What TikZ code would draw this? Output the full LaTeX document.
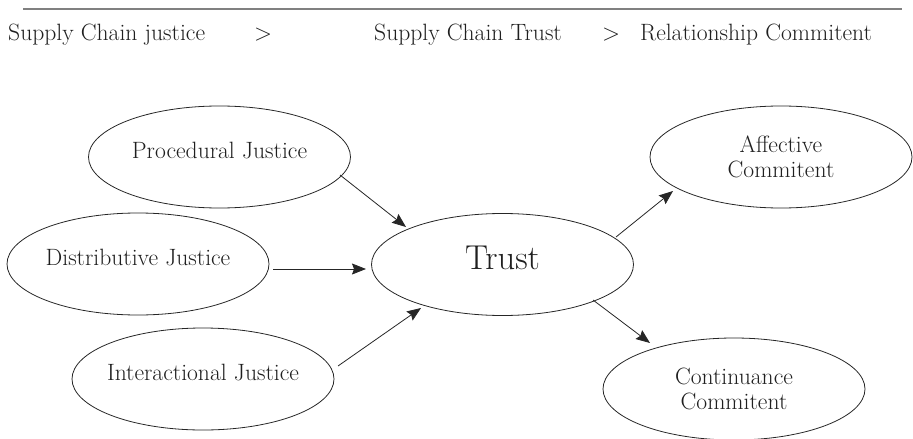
\documentclass[tikz,border=0pt]{standalone}
\usetikzlibrary{shapes.geometric,arrows.meta,calc}
\begin{document}
\begin{tikzpicture}[x=1pt,y=-1pt,
  txtcol/.style={text=black!88},
  oval/.style={draw=black!85, ellipse, minimum width=262pt, minimum height=102pt,
    inner xsep=-20pt, inner ysep=0pt, line width=0.8pt, txtcol,
    font=\fontsize{23.6}{25}\selectfont},
  oneline/.style={text height=9pt, text depth=7pt},
  twoline/.style={align=center},
  arr/.style={-{Stealth[length=14pt,width=11pt,inset=2pt]}, line width=0.8pt, draw=black!85},
  toptxt/.style={anchor=base west, inner sep=0pt, txtcol, font=\fontsize{23.6}{25}\selectfont},
  rulestyle/.style={draw=black!50, line width=2pt}]
\useasboundingbox (0,0) rectangle (913,439);

% top rule and heading line
\coordinate (rl) at (23,9);
\coordinate (rr) at (902,9);
\draw[rulestyle] (rl) -- (rr);
\node[toptxt] (h1) at (8,40) {Supply Chain justice};
\node[toptxt] (g1) at (254,40) {>};
\node[toptxt] (h2) at (374,40) {Supply Chain Trust};
\node[toptxt] (g2) at (602,40) {>};
\node[toptxt] (h3) at (640,40) {Relationship Commitent};

% ellipses
\node[oval,oneline] (P) at (219.5,157) {Procedural Justice};
\node[oval,oneline] (D) at (138,264) {Distributive Justice};
\node[oval,oneline] (I) at (203,379) {Interactional Justice};
\node[oval,font=\fontsize{34.5}{38}\selectfont,text height=16pt,text depth=6pt] (T) at (502.5,264.5) {Trust};
\node[oval,twoline] (A) at (781,157) {Affective\\Commitent};
\node[oval,twoline] (C) at (734,389) {Continuance\\Commitent};

% arrows
\draw[arr] ($(P)+(120.5,18)$) -- ($(T)+(-96.5,-37.5)$);
\draw[arr] ($(D)+(135,5)$) -- ($(T)+(-136.5,4.5)$);
\draw[arr] ($(I)+(135,-13)$) -- ($(T)+(-81.5,43.5)$);
\draw[arr] ($(T)+(113.5,-27.5)$) -- ($(A)+(-108,34)$);
\draw[arr] ($(T)+(90.5,35.5)$) -- ($(C)+(-84,-46)$);
\end{tikzpicture}
\end{document}
